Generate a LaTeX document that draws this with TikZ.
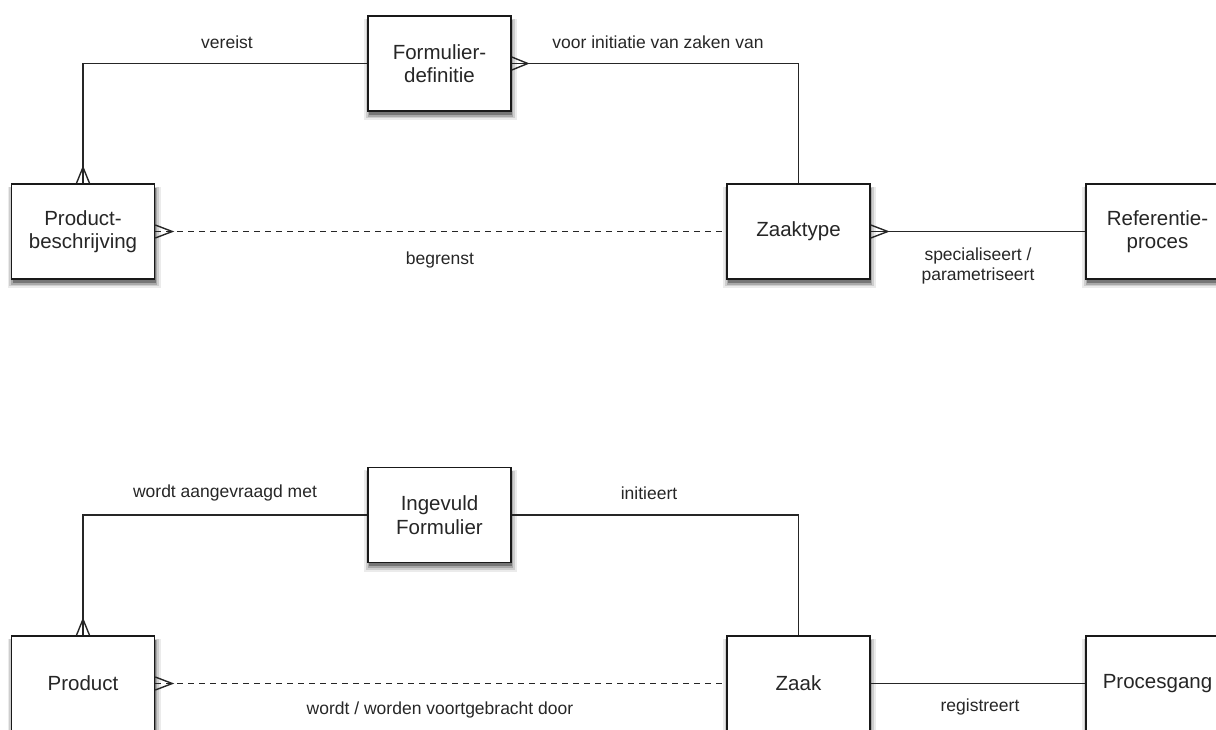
\documentclass[tikz,border=0pt]{standalone}
\usepackage{fontspec}
\setmainfont{Liberation Sans}
\usetikzlibrary{shadows,calc}
\tikzset{
  box/.style={draw=black!90, line width=1.6pt, fill=white, minimum width=143pt, minimum height=95pt,
    align=center, inner sep=0pt, text=black!85, font=\fontsize{20.5}{23.5}\selectfont,
    general shadow={shadow xshift=1pt, shadow yshift=-5.5pt, fill=black, opacity=0.08, shadow scale=1.07},
    general shadow={shadow xshift=1pt, shadow yshift=-5pt, fill=black, opacity=0.12, shadow scale=1.045},
    general shadow={shadow xshift=1pt, shadow yshift=-4.5pt, fill=black, opacity=0.18, shadow scale=1.02},
    general shadow={shadow xshift=1pt, shadow yshift=-3.5pt, fill=black, opacity=0.3}},
  conn/.style={draw=black!85, line width=1.4pt},
  dconn/.style={conn, dash pattern=on 6pt off 5pt},
  lbl/.style={text=black!85, font=\fontsize{17.5}{20.5}\selectfont, align=center, inner sep=0pt}
}
\begin{document}
\begin{tikzpicture}[x=1pt,y=-1pt]
\useasboundingbox (0,0) rectangle (1216,729);
\clip (0,0) rectangle (1216,729);
% top row
\node[box] (fd) at (439.5,63.5) {Formulier-\\definitie};
\node[box] (pb) at (83,231.5) {Product-\\beschrijving};
\node[box] (zt) at (798.5,231.5) {Zaaktype};
\node[box] (rp) at (1157.5,231.5) {Referentie-\\proces};
% bottom row
\node[box] (if) at (439.5,515) {Ingevuld\\Formulier};
\node[box] (pr) at (83,683.5) {Product};
\node[box] (zk) at (798.5,683.5) {Zaak};
\node[box] (pg) at (1157.5,683.5) {Procesgang};

% top connectors
\draw[conn] (fd.west) -| (pb.north);
\draw[conn] ([xshift=-6.5pt]pb.north) -- ([yshift=16pt]pb.north) -- ([xshift=6.5pt]pb.north);
\draw[conn] (fd.east) -| (zt.north);
\draw[conn] ([yshift=6.5pt]fd.east) -- ([xshift=16pt]fd.east) -- ([yshift=-6.5pt]fd.east);
\draw[dconn] (pb.east) -- ([xshift=-4pt]zt.west);
\draw[conn] ([yshift=6.5pt]pb.east) -- ([xshift=17pt]pb.east) -- ([yshift=-6.5pt]pb.east);
\draw[conn] (zt.east) -- (rp.west);
\draw[conn] ([yshift=6.5pt]zt.east) -- ([xshift=17pt]zt.east) -- ([yshift=-6.5pt]zt.east);

% bottom connectors
\draw[conn] (if.west) -| (pr.north);
\draw[conn] ([xshift=-6.5pt]pr.north) -- ([yshift=16pt]pr.north) -- ([xshift=6.5pt]pr.north);
\draw[conn] (if.east) -| (zk.north);
\draw[dconn] (pr.east) -- ([xshift=-4pt]zk.west);
\draw[conn] ([yshift=6.5pt]pr.east) -- ([xshift=17pt]pr.east) -- ([yshift=-6.5pt]pr.east);
\draw[conn] (zk.east) -- (pg.west);

% labels
\node[lbl] (l1) at (227,42) {vereist};
\node[lbl] (l2) at (658,42) {voor initiatie van zaken van};
\node[lbl] (l3) at (440,260) {begrenst};
\node[lbl] (l4) at (978,266) {specialiseert /\\parametriseert};
\node[lbl] (l5) at (225,493) {wordt aangevraagd met};
\node[lbl] (l6) at (649,493) {initieert};
\node[lbl] (l7) at (440,710) {wordt / worden voortgebracht door};
\node[lbl] (l8) at (980,707) {registreert};
\end{tikzpicture}
\end{document}
